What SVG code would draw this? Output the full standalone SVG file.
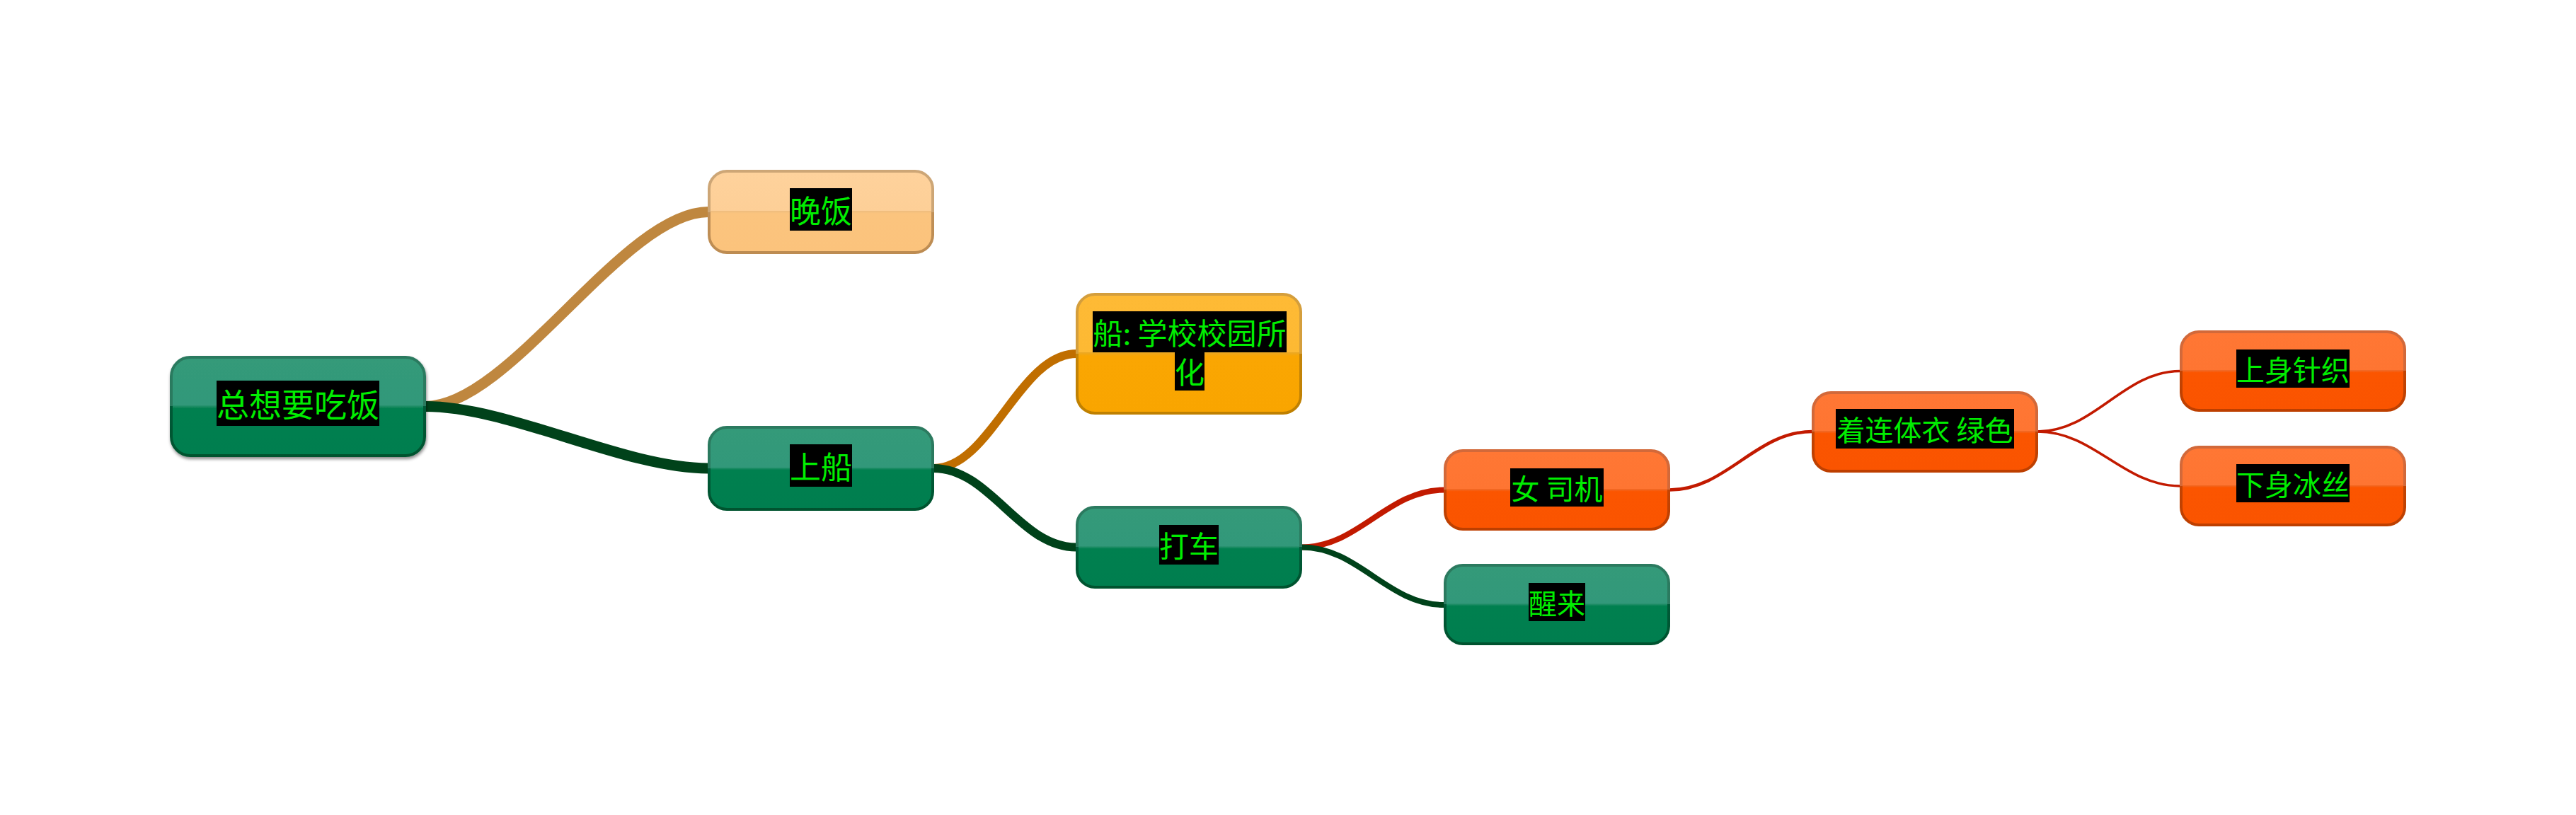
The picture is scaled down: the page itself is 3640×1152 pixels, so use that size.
<svg xmlns="http://www.w3.org/2000/svg" width="3640" height="1152" viewBox="0 0 3640 1152">
<defs>
<linearGradient id="gGreen" x1="0" y1="0" x2="0" y2="1">
<stop offset="0" stop-color="#349a79"/><stop offset="0.49" stop-color="#32987a"/><stop offset="0.49" stop-color="#2a9270"/><stop offset="0.52" stop-color="#00804f"/><stop offset="1" stop-color="#007e4f"/>
</linearGradient>
<linearGradient id="sGreen" x1="0" y1="0" x2="0" y2="1">
<stop offset="0" stop-color="#2b7a5f"/><stop offset="0.5" stop-color="#2b7a5f"/><stop offset="0.5" stop-color="#005a37"/><stop offset="1" stop-color="#00532f"/>
</linearGradient>
<linearGradient id="gPeach" x1="0" y1="0" x2="0" y2="1">
<stop offset="0" stop-color="#fed29c"/><stop offset="0.49" stop-color="#fdcf97"/><stop offset="0.49" stop-color="#efbd7e"/><stop offset="0.52" stop-color="#fbc47e"/><stop offset="1" stop-color="#fbc37c"/>
</linearGradient>
<linearGradient id="sPeach" x1="0" y1="0" x2="0" y2="1">
<stop offset="0" stop-color="#cda676"/><stop offset="0.5" stop-color="#cda676"/><stop offset="0.5" stop-color="#c09058"/><stop offset="1" stop-color="#bd8c52"/>
</linearGradient>
<linearGradient id="gAmber" x1="0" y1="0" x2="0" y2="1">
<stop offset="0" stop-color="#feba35"/><stop offset="0.49" stop-color="#fdb933"/><stop offset="0.49" stop-color="#eaa824"/><stop offset="0.52" stop-color="#faa602"/><stop offset="1" stop-color="#f9a500"/>
</linearGradient>
<linearGradient id="sAmber" x1="0" y1="0" x2="0" y2="1">
<stop offset="0" stop-color="#d49e3c"/><stop offset="0.5" stop-color="#d49e3c"/><stop offset="0.5" stop-color="#c4840a"/><stop offset="1" stop-color="#bf8000"/>
</linearGradient>
<linearGradient id="gOrange" x1="0" y1="0" x2="0" y2="1">
<stop offset="0" stop-color="#ff7734"/><stop offset="0.49" stop-color="#fe7532"/><stop offset="0.49" stop-color="#f06a28"/><stop offset="0.52" stop-color="#fb5500"/><stop offset="1" stop-color="#fa5400"/>
</linearGradient>
<linearGradient id="sOrange" x1="0" y1="0" x2="0" y2="1">
<stop offset="0" stop-color="#d2693a"/><stop offset="0.5" stop-color="#d2693a"/><stop offset="0.5" stop-color="#c24404"/><stop offset="1" stop-color="#bd3f00"/>
</linearGradient>
<filter id="shadow" x="-10%" y="-10%" width="120%" height="130%">
<feDropShadow dx="1" dy="3" stdDeviation="2" flood-color="#000" flood-opacity="0.45"/>
</filter>
</defs>
<style>
.box{stroke-width:4}
.green{fill:url(#gGreen);stroke:url(#sGreen)}
.peach{fill:url(#gPeach);stroke:url(#sPeach)}
.amber{fill:url(#gAmber);stroke:url(#sAmber)}
.orange{fill:url(#gOrange);stroke:url(#sOrange)}
.bg{fill:#000}
.t{font-family:"Noto Sans CJK SC","Noto Sans CJK JP",sans-serif;fill:#00ee00;text-anchor:middle}
.c{fill:none;stroke-linecap:butt}
</style>
<rect width="3640" height="1152" fill="#ffffff"/>
<g id="connectors">
<path class="c" d="M601,574.5 C721,574.5 881,299.5 1001,299.5" stroke="#bf873f" stroke-width="15"/>
<path class="c" d="M601,574.5 C721,574.5 881,662 1001,662" stroke="#00421a" stroke-width="15"/>
<path class="c" d="M1319,662 C1400,662 1440,500 1521,500" stroke="#c06e00" stroke-width="12"/>
<path class="c" d="M1319,662 C1400,662 1440,773.5 1521,773.5" stroke="#00421a" stroke-width="12"/>
<path class="c" d="M1839,773.5 C1920,773.5 1960,692.5 2041,692.5" stroke="#c21a00" stroke-width="8"/>
<path class="c" d="M1839,773.5 C1920,773.5 1960,855 2041,855" stroke="#00421a" stroke-width="8"/>
<path class="c" d="M2359,692.5 C2440,692.5 2480,610 2561,610" stroke="#c21a00" stroke-width="4.5"/>
<path class="c" d="M2879,610 C2960,610 3000,524.5 3081,524.5" stroke="#c21a00" stroke-width="3.5"/>
<path class="c" d="M2879,610 C2960,610 3000,687 3081,687" stroke="#c21a00" stroke-width="3.5"/>
</g>
<g id="node-root">
<rect class="box green" x="242" y="505" width="358" height="139" rx="27" filter="url(#shadow)"/>
<rect class="bg" x="306" y="538" width="230" height="64"/>
<text class="t" x="421" y="589" font-size="46">总想要吃饭</text>
</g>
<g id="node-wanfan">
<rect class="box peach" x="1002" y="242" width="316" height="115" rx="25"/>
<rect class="bg" x="1116" y="266" width="88" height="60"/>
<text class="t" x="1160" y="314.5" font-size="44">晚饭</text>
</g>
<g id="node-shangchuan">
<rect class="box green" x="1002" y="604" width="316" height="116" rx="25"/>
<rect class="bg" x="1116" y="628" width="88" height="60"/>
<text class="t" x="1160" y="676.5" font-size="44">上船</text>
</g>
<g id="node-chuan">
<rect class="box amber" x="1522" y="416" width="316" height="168" rx="25"/>
<rect class="bg" x="1544" y="440" width="274" height="58"/>
<rect class="bg" x="1660" y="497" width="42" height="55"/>
<text class="t" x="1681" y="486.5" font-size="42">船: 学校校园所</text>
<text class="t" x="1681" y="542" font-size="42">化</text>
</g>
<g id="node-dache">
<rect class="box green" x="1522" y="717" width="316" height="113" rx="25"/>
<rect class="bg" x="1638" y="742" width="84" height="56"/>
<text class="t" x="1680" y="787.5" font-size="42">打车</text>
</g>
<g id="node-nvsiji">
<rect class="box orange" x="2042" y="637" width="316" height="111" rx="25"/>
<rect class="bg" x="2134" y="662" width="132" height="54"/>
<text class="t" x="2200" y="705.5" font-size="40">女 司机</text>
</g>
<g id="node-xinglai">
<rect class="box green" x="2042" y="799" width="316" height="111" rx="25"/>
<rect class="bg" x="2160" y="824" width="80" height="54"/>
<text class="t" x="2200" y="867.5" font-size="40">醒来</text>
</g>
<g id="node-zhuo">
<rect class="box orange" x="2562" y="555" width="316" height="111" rx="25"/>
<rect class="bg" x="2594" y="578" width="252" height="56"/>
<text class="t" x="2720" y="622.5" font-size="40">着连体衣 绿色</text>
</g>
<g id="node-shangshen">
<rect class="box orange" x="3082" y="469" width="316" height="111" rx="25"/>
<rect class="bg" x="3160" y="494" width="160" height="54"/>
<text class="t" x="3240" y="537.5" font-size="40">上身针织</text>
</g>
<g id="node-xiashen">
<rect class="box orange" x="3082" y="632" width="316" height="110" rx="25"/>
<rect class="bg" x="3160" y="656" width="160" height="54"/>
<text class="t" x="3240" y="699.5" font-size="40">下身冰丝</text>
</g>
</svg>
